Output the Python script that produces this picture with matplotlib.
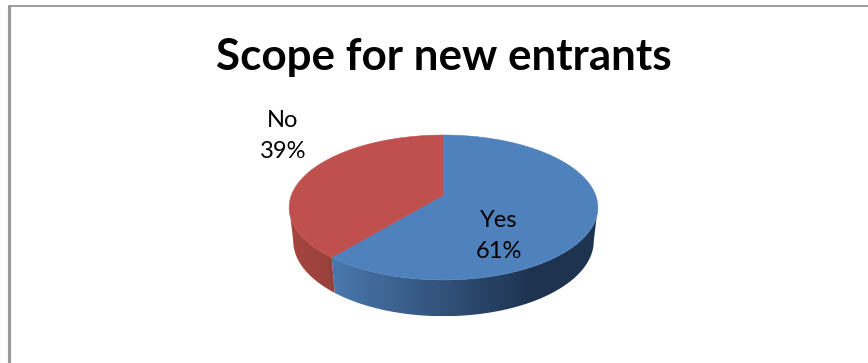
import numpy as np
import matplotlib
matplotlib.use("Agg")
import matplotlib.pyplot as plt
from matplotlib.colors import LinearSegmentedColormap
from matplotlib.patches import Polygon

# Chart content
title = "Scope for new entrants"
categories = ["Yes", "No"]
shares = [61, 39]

# Colours: top face and the two ends of each side-wall gradient
top_colors = ["#4f81bd", "#c0504d"]
side_colors = [("#4a78ae", "#1e3350"), ("#a8463f", "#97403c")]

W, H = 868, 363
fig = plt.figure(figsize=(W / 100, H / 100), dpi=100)
ax = fig.add_axes([0, 0, 1, 1])
ax.set_xlim(0, W)
ax.set_ylim(H, 0)
ax.axis("off")

# Pie geometry: a disc seen in perspective, with its centre at (CX, CY)
CX, CY = 443.5, 195.0
K = 0.1724


def rim(theta, scale_x, scale_y, drop):
    """Project clockwise-from-top angles onto the screen."""
    u, v = np.sin(theta), -np.cos(theta)
    d = 1 - K * v
    return CX + scale_x * u / d, CY + drop + scale_y * v / d


def top_rim(theta):
    return rim(theta, 152.0, 70.3, 0.0)


def bottom_rim(theta):
    return rim(theta, 148.0, 73.0, 33.0)


fractions = np.array(shares) / sum(shares)
edges = np.concatenate([[0], np.cumsum(fractions)]) * 2 * np.pi

# The disc's widest points: side walls are visible only between them
tip = np.arccos(-K)

for i in range(len(shares)):
    start = max(edges[i], tip)
    stop = min(edges[i + 1], 2 * np.pi - tip)
    if stop <= start:
        continue
    theta = np.linspace(start, stop, 200)
    tx, ty = top_rim(theta)
    bx, by = bottom_rim(theta)
    outline = np.column_stack([np.r_[tx, bx[::-1]], np.r_[ty, by[::-1]]])
    # The blue wall darkens to the right, the red wall is nearly flat
    dark_end, light_end = side_colors[i][1], side_colors[i][0]
    cmap = LinearSegmentedColormap.from_list("wall", [light_end, dark_end])
    x0, x1 = outline[:, 0].min(), outline[:, 0].max()
    y0, y1 = outline[:, 1].min(), outline[:, 1].max()
    ramp = np.linspace(0, 1, 256).reshape(1, -1)
    if i == 0:
        ramp = np.clip(ramp / 0.75, 0, 1)
    img = ax.imshow(ramp, cmap=cmap, vmin=0, vmax=1, extent=[x0, x1, y1, y0],
                    aspect="auto", zorder=2, interpolation="bilinear")
    clip = Polygon(outline, closed=True, transform=ax.transData,
                   facecolor="none", edgecolor="none")
    ax.add_patch(clip)
    img.set_clip_path(clip)

ax.set_xlim(0, W)
ax.set_ylim(H, 0)

# Top face wedges, from the perspective centre out to the rim
for i, color in enumerate(top_colors):
    theta = np.linspace(edges[i], edges[i + 1], 300)
    tx, ty = top_rim(theta)
    pts = np.column_stack([np.r_[CX, tx], np.r_[CY, ty]])
    ax.add_patch(Polygon(pts, closed=True, facecolor=color, edgecolor=color,
                         linewidth=0.4, zorder=3))

# Frame: only the top and left edges show
ax.plot([9, 9], [H, 5.7], color="#9a9a9a", lw=2.3, solid_capstyle="butt", zorder=5)
ax.plot([7.8, W], [5.7, 5.7], color="#8c8c8c", lw=1.2, solid_capstyle="butt", zorder=5)

font = ["Lato", "DejaVu Sans"]
ax.text(443.5, 70, title, ha="center", va="baseline", fontsize=31.7,
        fontweight="bold", family=font, color="black", zorder=6)

# Data labels, two lines each: category, then share
label_pos = {"Yes": (498.5, 227, 258), "No": (283, 127, 158)}
for name, share in zip(categories, shares):
    x, y_name, y_share = label_pos[name]
    ax.text(x, y_name, name, ha="center", va="baseline", fontsize=17,
            family=font, color="black", zorder=6)
    ax.text(x, y_share, f"{share}%", ha="center", va="baseline", fontsize=17,
            family=font, color="black", zorder=6)

fig.savefig("out.png", dpi=100, facecolor="white")
